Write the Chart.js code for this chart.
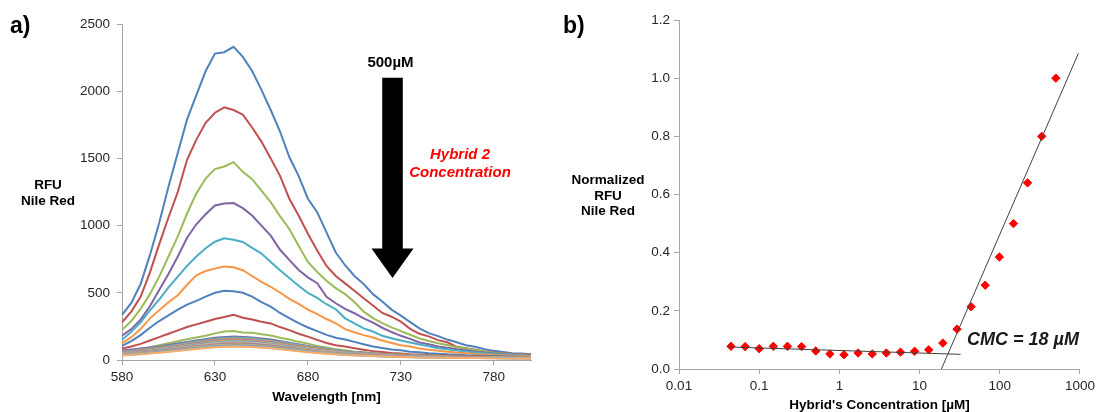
<!DOCTYPE html>
<html lang="en">
<head>
<meta charset="UTF-8">
<title>Nile Red CMC</title>
<script src="https://cdn.jsdelivr.net/npm/chart.js"></script>
<style>
  body { margin: 0; background: #fff; }
  #wrapA { position: absolute; left: 0; top: 0; }
  #wrapB { position: absolute; left: 548px; top: 0; }
</style>
</head>
<body>
<div id="wrapA"><canvas id="spectraChart" width="548" height="412"></canvas></div>
<div id="wrapB"><canvas id="cmcChart" width="551" height="412"></canvas></div>

<script>
// ---- panel a: emission spectra (RFU vs wavelength) ----
const wavelengths = [580, 585, 590, 595, 600, 605, 610, 615, 620, 625, 630, 635, 640, 645, 650, 655, 660, 665, 670, 675,
  680, 685, 690, 695, 700, 705, 710, 715, 720, 725, 730, 735, 740, 745, 750, 755, 760, 765, 770, 775, 780, 785, 790, 795, 800];
const wavelengthsCoarse = [580, 590, 600, 610, 620, 630, 640, 650, 660, 670, 680, 690, 700, 710, 720, 730, 740, 750, 760, 770, 780, 790, 800];

const rfu500 = [335, 425, 565, 780, 1020, 1290, 1540, 1790, 1970, 2150, 2280, 2290, 2330, 2255, 2150, 2010, 1860, 1700, 1510, 1370,
  1200, 1100, 950, 800, 705, 625, 565, 490, 435, 375, 330, 282, 236, 200, 178, 152, 132, 110, 98, 80, 68, 60, 50, 49, 43];
const rfu333 = [280, 360, 470, 650, 860, 1060, 1250, 1490, 1640, 1765, 1840, 1880, 1860, 1825, 1730, 1625, 1500, 1370, 1200, 1075,
  940, 815, 700, 625, 570, 515, 460, 405, 350, 322, 285, 232, 195, 176, 148, 132, 98, 88, 76, 64, 56, 50, 45, 42, 40];
const rfu222 = [223, 290, 380, 490, 620, 770, 920, 1090, 1240, 1350, 1420, 1440, 1472, 1400, 1345, 1260, 1175, 1070, 975, 850,
  730, 655, 590, 535, 490, 432, 360, 312, 275, 243, 215, 188, 160, 142, 125, 112, 95, 86, 72, 63, 52, 49, 43, 41, 38];
const rfu148 = [180, 230, 300, 400, 520, 640, 770, 910, 1010, 1085, 1150, 1165, 1168, 1130, 1075, 1000, 925, 820, 745, 670,
  615, 572, 470, 422, 380, 348, 310, 278, 240, 208, 180, 157, 130, 117, 100, 92, 80, 73, 62, 56, 48, 45, 40, 39, 36];
const rfu98 = [150, 210, 280, 370, 450, 540, 620, 700, 770, 832, 880, 905, 895, 878, 835, 792, 730, 668, 610, 552,
  500, 462, 415, 378, 310, 272, 235, 212, 180, 162, 145, 130, 115, 102, 88, 80, 70, 63, 56, 51, 45, 41, 37, 36, 33];
const rfu66 = [125, 170, 230, 310, 370, 430, 482, 560, 630, 662, 680, 695, 690, 668, 625, 582, 545, 502, 455, 418,
  375, 342, 305, 272, 230, 207, 185, 167, 145, 127, 110, 100, 85, 77, 68, 62, 55, 51, 45, 41, 37, 35, 32, 31, 29];
const rfu44 = [105, 140, 185, 240, 290, 332, 375, 412, 440, 472, 500, 515, 512, 500, 472, 430, 397, 350, 312, 275,
  242, 215, 187, 165, 152, 135, 117, 100, 90, 78, 72, 62, 57, 50, 47, 42, 39, 35, 33, 30, 29, 27, 26, 25, 24];
const rfu29 = [85, 100, 120, 145, 170, 195, 220, 245, 265, 285, 305, 320, 337, 315, 302, 285, 272, 245, 222, 195,
  174, 150, 127, 110, 100, 88, 77, 66, 60, 52, 48, 43, 41, 37, 35, 32, 31, 28, 27, 25, 24, 23, 22, 21, 20];
const rfu19 = [62, 72, 82, 95, 110, 125, 140, 155, 168, 180, 198, 212, 215, 205, 202, 192, 182, 165, 152, 135,
  122, 105, 94, 80, 72, 62, 57, 50, 47, 42, 40, 36, 35, 32, 31, 28, 27, 25, 24, 22, 22, 20, 19, 18, 18];
// low concentrations (read on the coarse grid, they overlap in a band)
const rfu13 = [70, 85, 100, 122, 145, 165, 175, 168, 152, 128, 104, 82, 66, 54, 45, 38, 33, 29, 26, 24, 22, 21, 20];
const rfu8_7 = [64, 78, 95, 116, 140, 158, 168, 162, 146, 124, 100, 80, 64, 52, 43, 37, 32, 28, 25, 23, 21, 20, 19];
const rfu5_8 = [60, 74, 90, 110, 132, 150, 160, 155, 140, 118, 96, 76, 61, 50, 42, 36, 31, 27, 24, 22, 20, 19, 18];
const rfu3_9 = [57, 70, 86, 106, 128, 146, 155, 150, 134, 113, 92, 73, 59, 48, 40, 34, 30, 26, 23, 21, 19, 18, 17];
const rfu2_6 = [55, 67, 83, 102, 124, 141, 150, 145, 130, 110, 89, 71, 57, 47, 39, 33, 29, 25, 22, 20, 18, 17, 16];
const rfu1_7 = [52, 64, 80, 98, 119, 136, 145, 140, 126, 106, 86, 68, 55, 45, 37, 32, 28, 24, 21, 19, 18, 17, 16];
const rfu1_1 = [50, 61, 77, 94, 115, 131, 140, 135, 121, 102, 82, 65, 53, 43, 36, 31, 27, 23, 21, 19, 17, 16, 15];
const rfu0_76 = [48, 58, 74, 90, 110, 126, 135, 130, 117, 98, 79, 63, 51, 41, 35, 30, 26, 22, 20, 18, 16, 15, 15];
const rfu0_51 = [46, 56, 71, 87, 106, 121, 130, 126, 113, 95, 76, 61, 49, 40, 33, 29, 25, 22, 19, 17, 16, 15, 14];
const rfu0_34 = [44, 54, 68, 84, 102, 116, 125, 121, 108, 91, 73, 58, 47, 38, 32, 27, 24, 21, 18, 16, 15, 14, 14];
const rfu0_23 = [42, 52, 65, 80, 98, 112, 120, 116, 104, 87, 70, 56, 45, 37, 31, 26, 23, 20, 18, 16, 15, 14, 13];
const rfu0_15 = [40, 50, 62, 77, 94, 107, 115, 111, 99, 83, 67, 54, 43, 35, 30, 25, 22, 19, 17, 15, 14, 13, 13];
const rfu0_10 = [38, 47, 59, 73, 90, 103, 110, 106, 95, 80, 64, 51, 41, 34, 28, 24, 21, 18, 16, 15, 14, 13, 12];
const rfu0_067 = [36, 45, 57, 70, 86, 98, 105, 101, 91, 76, 61, 49, 39, 32, 27, 23, 20, 17, 15, 14, 13, 12, 12];
const rfu0_045 = [34, 43, 54, 67, 82, 94, 100, 97, 87, 73, 58, 47, 37, 31, 26, 22, 19, 17, 15, 14, 13, 12, 11];

const spectra = [
  [wavelengths, rfu500], [wavelengths, rfu333], [wavelengths, rfu222], [wavelengths, rfu148],
  [wavelengths, rfu98], [wavelengths, rfu66], [wavelengths, rfu44], [wavelengths, rfu29], [wavelengths, rfu19],
  [wavelengthsCoarse, rfu13], [wavelengthsCoarse, rfu8_7], [wavelengthsCoarse, rfu5_8], [wavelengthsCoarse, rfu3_9],
  [wavelengthsCoarse, rfu2_6], [wavelengthsCoarse, rfu1_7], [wavelengthsCoarse, rfu1_1], [wavelengthsCoarse, rfu0_76],
  [wavelengthsCoarse, rfu0_51], [wavelengthsCoarse, rfu0_34], [wavelengthsCoarse, rfu0_23], [wavelengthsCoarse, rfu0_15],
  [wavelengthsCoarse, rfu0_10], [wavelengthsCoarse, rfu0_067], [wavelengthsCoarse, rfu0_045]
];
const spectraColors = ['#4F81BD', '#C0504D', '#9BBB59', '#8064A2', '#4BACC6', '#F79646',
  '#4F81BD', '#C0504D', '#9BBB59', '#8064A2', '#4BACC6', '#F79646',
  '#729ACA', '#CD7371', '#AFC97A', '#9983B5', '#6FBDD1', '#F9AB6B',
  '#729ACA', '#CD7371', '#AFC97A', '#9983B5', '#6FBDD1', '#F9AB6B'];
const wavelengthTicks = [580, 630, 680, 730, 780];

// ---- panel b: normalized RFU vs concentration ----
const concentrations = [0.0445, 0.0668, 0.100, 0.150, 0.225, 0.338, 0.507, 0.761, 1.14, 1.71, 2.57, 3.85,
  5.78, 8.67, 13.0, 19.5, 29.3, 43.9, 65.8, 98.8, 148, 222, 333, 500];
const normalizedRfu = [0.078, 0.077, 0.070, 0.078, 0.078, 0.077, 0.062, 0.052, 0.049, 0.055, 0.052, 0.055,
  0.058, 0.061, 0.066, 0.089, 0.137, 0.214, 0.288, 0.385, 0.500, 0.640, 0.800, 1.000];
const flatFitX = [0.0406, 32.4];
const flatFitY = [0.0757, 0.0505];
const steepFitX = [18.7, 955];
const steepFitY = [0, 1.085];
const concTicks = [0.01, 0.1, 1, 10, 100, 1000];

Chart.defaults.font.family = '"Liberation Sans", Arial, sans-serif';
Chart.defaults.color = '#262626';

const FONT = '"Liberation Sans", Arial, sans-serif';
const AXIS_GRAY = '#a6a6a6';

function toPoints(xs, ys) {
  return xs.map((x, i) => ({ x: x, y: ys[i] }));
}

function drawText(ctx, txt, x, y, font, color, align) {
  ctx.font = font;
  ctx.fillStyle = color || '#000';
  ctx.textAlign = align || 'center';
  ctx.textBaseline = 'middle';
  ctx.fillText(txt, x, y);
}

const axisStyle = {
  grid: { drawOnChartArea: false, drawTicks: true, tickLength: 5, color: AXIS_GRAY },
  border: { color: AXIS_GRAY, width: 1 }
};

// panel a texts and the big arrow
const spectraLabels = {
  id: 'spectraLabels',
  afterDraw(chart) {
    const ctx = chart.ctx;
    const sx = chart.scales.x, sy = chart.scales.y;
    ctx.save();
    drawText(ctx, 'a)', 10, 27, 'bold 23px ' + FONT, '#000', 'left');
    drawText(ctx, 'RFU', 48, 185, 'bold 13.5px ' + FONT);
    drawText(ctx, 'Nile Red', 48, 201, 'bold 13.5px ' + FONT);
    drawText(ctx, 'Wavelength [nm]', (chart.chartArea.left + chart.chartArea.right) / 2, 397, 'bold 13.5px ' + FONT);

    // arrow
    const ax = sx.getPixelForValue(725.5);
    const top = sy.getPixelForValue(2100);
    const neck = sy.getPixelForValue(830);
    const tip = sy.getPixelForValue(610);
    ctx.fillStyle = '#000';
    ctx.beginPath();
    ctx.moveTo(ax - 10.3, top);
    ctx.lineTo(ax + 10.3, top);
    ctx.lineTo(ax + 10.3, neck);
    ctx.lineTo(ax + 21, neck);
    ctx.lineTo(ax, tip);
    ctx.lineTo(ax - 21, neck);
    ctx.lineTo(ax - 10.3, neck);
    ctx.closePath();
    ctx.fill();

    drawText(ctx, '500µM', ax - 2, 63, 'bold 15px ' + FONT);
    drawText(ctx, 'Hybrid 2', 460, 155, 'italic bold 15px ' + FONT, '#ff0000');
    drawText(ctx, 'Concentration', 460, 173, 'italic bold 15px ' + FONT, '#ff0000');
    ctx.restore();
  }
};

const cmcLabels = {
  id: 'cmcLabels',
  afterDraw(chart) {
    const ctx = chart.ctx;
    ctx.save();
    drawText(ctx, 'b)', 15, 27, 'bold 23px ' + FONT, '#000', 'left');
    drawText(ctx, 'Normalized', 60, 180, 'bold 13.5px ' + FONT);
    drawText(ctx, 'RFU', 60, 196, 'bold 13.5px ' + FONT);
    drawText(ctx, 'Nile Red', 60, 211, 'bold 13.5px ' + FONT);
    drawText(ctx, "Hybrid's Concentration [µM]", (chart.chartArea.left + chart.chartArea.right) / 2, 405, 'bold 13.5px ' + FONT);
    drawText(ctx, 'CMC = 18 µM', 475, 340, 'italic bold 18px ' + FONT, '#1a1a1a');
    ctx.restore();
  }
};

new Chart(document.getElementById('spectraChart'), {
  type: 'scatter',
  data: {
    datasets: spectra.map((s, i) => ({
      data: toPoints(s[0], s[1]),
      showLine: true,
      borderColor: spectraColors[i],
      backgroundColor: spectraColors[i],
      borderWidth: 2,
      pointRadius: 0,
      tension: 0,
      order: spectra.length - i
    }))
  },
  options: {
    responsive: false,
    animation: false,
    events: [],
    layout: { padding: { left: 0, right: 17, top: 24, bottom: 0 } },
    plugins: { legend: { display: false }, tooltip: { enabled: false } },
    scales: {
      x: {
        type: 'linear', min: 580, max: 800,
        ...axisStyle,
        afterFit: (s) => { s.height = 52; },
        afterBuildTicks: (s) => { s.ticks = wavelengthTicks.map(v => ({ value: v })); },
        ticks: { padding: 4, font: { size: 13.5 }, autoSkip: false, maxRotation: 0, callback: (v) => String(v) }
      },
      y: {
        min: 0, max: 2500,
        ...axisStyle,
        afterFit: (s) => { s.width = 122; },
        ticks: { stepSize: 500, padding: 7, font: { size: 13.5 }, callback: (v) => String(v) }
      }
    }
  },
  plugins: [spectraLabels]
});

new Chart(document.getElementById('cmcChart'), {
  type: 'scatter',
  data: {
    datasets: [
      {
        data: toPoints(flatFitX, flatFitY),
        showLine: true, borderColor: '#404040', borderWidth: 1, pointRadius: 0, order: 0
      },
      {
        data: toPoints(steepFitX, steepFitY),
        showLine: true, borderColor: '#404040', borderWidth: 1, pointRadius: 0, order: 0
      },
      {
        data: toPoints(concentrations, normalizedRfu),
        pointStyle: 'rectRot', pointRadius: 4.2, borderWidth: 1,
        backgroundColor: '#ff0000', borderColor: '#ff0000', order: 1
      }
    ]
  },
  options: {
    responsive: false,
    animation: false,
    events: [],
    layout: { padding: { left: 0, right: 15, top: 20, bottom: 0 } },
    plugins: { legend: { display: false }, tooltip: { enabled: false } },
    scales: {
      x: {
        type: 'logarithmic', min: 0.01, max: 1000,
        ...axisStyle,
        afterFit: (s) => { s.height = 43; },
        afterBuildTicks: (s) => { s.ticks = concTicks.map(v => ({ value: v })); },
        ticks: { padding: 4, font: { size: 13.5 }, autoSkip: false, maxRotation: 0, callback: (v) => String(v) }
      },
      y: {
        min: 0, max: 1.2,
        ...axisStyle,
        afterFit: (s) => { s.width = 131; },
        ticks: { stepSize: 0.2, padding: 4, font: { size: 13.5 }, callback: (v) => v.toFixed(1) }
      }
    }
  },
  plugins: [cmcLabels]
});
</script>
</body>
</html>
